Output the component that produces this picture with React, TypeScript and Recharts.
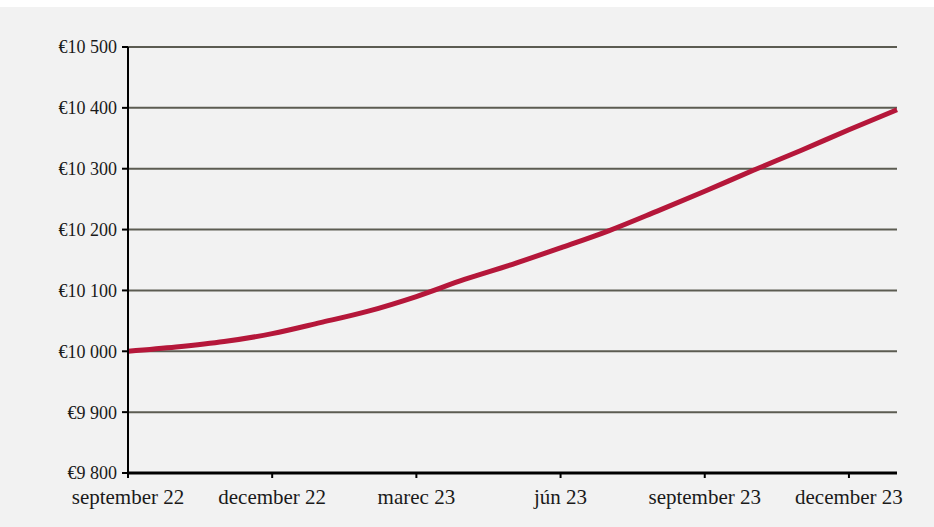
import { LineChart, Line, XAxis, YAxis, CartesianGrid } from 'recharts'

const months = [
  'september 22',
  'október 22',
  'november 22',
  'december 22',
  'január 23',
  'február 23',
  'marec 23',
  'apríl 23',
  'máj 23',
  'jún 23',
  'júl 23',
  'august 23',
  'september 23',
  'október 23',
  'november 23',
  'december 23',
  'január 24',
]

const values = [
  10000, 10007, 10016, 10029, 10047, 10066, 10090, 10118, 10143, 10170, 10198,
  10230, 10263, 10297, 10330, 10364, 10397,
]

const yTicks = [9800, 9900, 10000, 10100, 10200, 10300, 10400, 10500]

const data = months.map((m, i) => ({ month: m, value: values[i] }))

const fmtEuro = (v: number) => {
  const s = String(v)
  return '€' + s.slice(0, s.length - 3) + ' ' + s.slice(-3)
}

const serif = '"Liberation Serif", "Times New Roman", serif'
const xFont = { fontFamily: serif, fontSize: 21, fill: '#1a1a1a' }
const yFont = { fontFamily: serif, fontSize: 18, fill: '#1a1a1a' }

const App = () => {
  return (
    <div
      style={{
        position: 'absolute',
        top: 7,
        left: 0,
        width: 934,
        height: 520,
        background: '#f2f2f2',
      }}
    >
      <LineChart
        width={934}
        height={520}
        data={data}
        margin={{ top: 40, right: 37, left: 0, bottom: 24 }}
      >
        <CartesianGrid
          horizontal
          vertical={false}
          stroke="#5c5c52"
          strokeWidth={2}
        />
        <XAxis
          dataKey="month"
          interval={2}
          tick={xFont}
          tickSize={5}
          tickMargin={11}
          height={30}
          axisLine={{ stroke: '#000', strokeWidth: 3 }}
          tickLine={{ stroke: '#000', strokeWidth: 2 }}
        />
        <YAxis
          domain={[9800, 10500]}
          ticks={yTicks}
          tickFormatter={fmtEuro}
          tick={yFont}
          tickSize={6}
          tickMargin={5}
          width={128}
          axisLine={{ stroke: '#000', strokeWidth: 2 }}
          tickLine={{ stroke: '#000', strokeWidth: 2 }}
        />
        <Line
          type="monotone"
          dataKey="value"
          stroke="#b5173a"
          strokeWidth={5}
          dot={false}
          isAnimationActive={false}
        />
      </LineChart>
    </div>
  )
}

export default App
